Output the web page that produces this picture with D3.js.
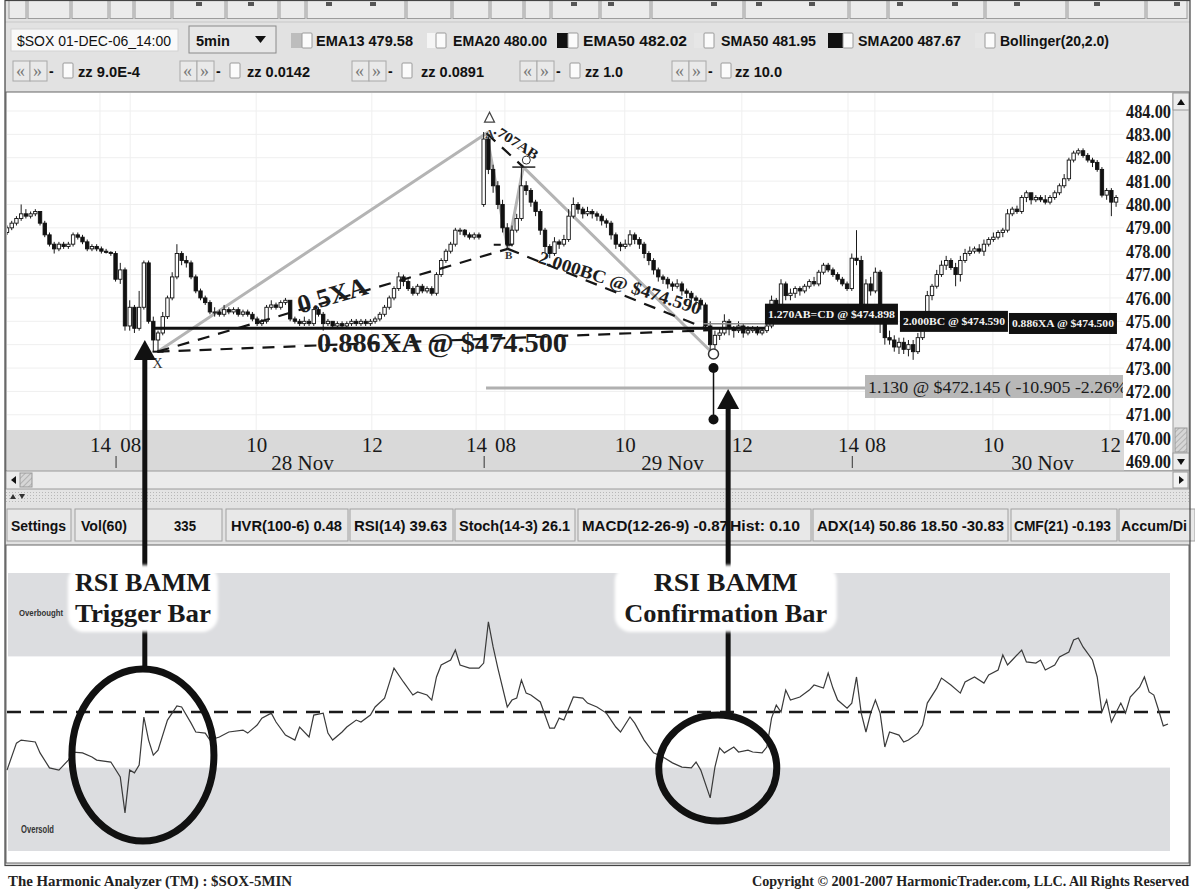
<!DOCTYPE html>
<html><head><meta charset="utf-8"><title>SOX 5min RSI BAMM</title>
<script src="https://cdn.jsdelivr.net/npm/d3@7/dist/d3.min.js"></script>
<style>html,body{margin:0;padding:0;background:#fff;overflow:hidden}svg{display:block}</style>
</head><body><svg id="chart" width="1195" height="894"></svg>
<script>
// ================= DATA =================
const openP=[
478.8,479.0,479.2,479.4,479.6,479.5,479.6,479.7,479.2,478.7,
478.3,478.1,478.3,478.2,478.3,478.7,478.6,478.4,478.1,478.2,
478.1,478.0,477.95,477.9,476.8,477.2,474.8,475.6,474.7,475.6,
477.5,475.0,474.2,474.5,475.2,476.0,476.9,477.9,477.6,477.5,
476.9,476.3,476.0,475.8,475.4,475.4,475.3,475.5,475.4,475.5,
475.3,475.4,475.3,475.1,474.9,475.0,475.6,475.7,475.6,475.8,
475.9,475.1,475.0,474.9,475.0,474.9,475.5,475.3,474.9,475.0,
474.8,474.9,474.8,474.9,475.0,474.9,475.0,474.9,475.0,475.1,
475.3,475.6,476.0,476.4,476.9,476.7,476.4,476.2,476.5,476.3,
476.4,476.2,477.0,477.6,478.0,478.3,478.9,478.9,478.7,478.6,
478.7,480.0,482.8,481.5,480.8,480.0,479.0,478.3,478.9,479.4,
480.8,480.6,480.1,479.7,478.9,478.2,477.9,478.4,478.3,478.5,
479.5,480.0,479.8,479.6,479.7,479.6,479.5,479.3,479.2,478.7,
478.3,478.2,478.3,478.7,478.5,478.3,477.9,477.6,477.2,476.9,
476.8,476.6,476.5,476.6,476.3,476.2,476.0,475.9,475.7,474.8,
474.0,474.4,474.5,475.0,474.7,474.6,474.8,474.5,474.6,474.7,
474.5,474.6,474.8,475.9,475.5,476.6,476.1,476.2,476.4,476.3,
476.5,476.7,476.6,477.1,477.4,477.2,477.0,476.8,476.6,476.4,
477.7,477.6,475.7,476.6,476.3,477.1,475.0,474.3,474.2,473.9,
474.1,473.8,474.0,473.7,474.3,475.1,476.1,476.5,477.0,477.4,
477.6,477.3,477.0,477.6,477.9,478.0,478.1,478.0,478.3,478.5,
478.6,478.8,478.9,479.6,479.8,479.7,480.3,480.5,480.2,480.3,
480.2,480.1,480.3,480.5,480.8,481.1,481.9,482.2,482.3,482.1,
481.9,481.8,481.5,480.4,480.6,480.1];
const highP=[
479.1,479.3,479.5,480.0,479.8,479.7,479.8,479.7,479.3,478.8,
478.4,478.4,478.4,478.4,478.8,478.8,478.7,478.5,478.3,478.3,
478.2,478.1,478.0,478.0,477.5,477.3,475.9,475.7,476.3,477.6,
477.6,475.2,474.6,475.4,476.1,477.1,478.3,478.0,477.8,477.6,
477.0,476.4,476.1,475.9,475.6,475.5,475.7,475.6,475.6,475.6,
475.5,475.5,475.4,475.2,475.1,475.7,475.9,475.8,475.9,476.0,
475.9,475.2,475.1,475.2,475.1,475.6,475.6,475.4,475.1,475.0,
475.0,475.0,475.0,475.1,475.1,475.1,475.1,475.1,475.2,475.4,
475.7,476.1,476.5,477.1,477.0,476.8,476.5,476.6,476.6,476.5,
476.5,477.1,477.7,478.1,478.4,479.0,479.0,478.95,478.8,478.8,
478.8,483.1,482.9,481.7,481.0,480.2,479.2,479.1,479.6,481.6,
481.0,480.7,480.2,479.8,479.0,478.3,478.6,478.5,478.7,479.8,
480.3,480.1,479.9,479.9,479.8,479.7,479.6,479.4,479.3,478.8,
478.4,478.5,478.9,478.8,478.6,478.4,478.0,477.7,477.3,477.0,
476.9,476.7,476.8,476.7,476.4,476.3,476.1,476.0,475.8,475.0,
474.6,474.7,475.3,475.1,474.8,475.0,474.9,474.8,474.8,474.8,
474.7,474.9,476.1,476.0,476.8,476.7,476.4,476.5,476.5,476.6,
476.8,476.9,477.2,477.5,477.5,477.3,477.1,476.9,476.7,477.9,
478.9,477.8,476.8,476.9,477.3,477.2,475.1,474.6,474.4,474.3,
474.3,474.2,474.2,474.5,475.3,476.3,476.6,477.2,477.6,477.8,
477.7,477.5,477.8,478.1,478.2,478.2,478.3,478.5,478.6,478.8,
478.9,479.0,479.8,479.9,479.95,480.4,480.6,480.5,480.4,480.4,
480.4,480.4,480.6,480.9,481.3,482.0,482.3,482.4,482.4,482.2,
482.0,481.9,481.6,480.7,480.7,480.4];
const lowP=[
478.7,478.9,479.1,479.3,479.4,479.4,479.5,479.1,478.6,478.2,
477.9,478.0,478.1,478.1,478.2,478.5,478.3,478.0,478.0,478.0,
477.9,477.9,477.8,476.7,476.6,474.6,474.6,474.5,474.6,475.5,
474.9,473.7,473.65,474.4,475.1,475.9,476.8,477.4,477.3,476.8,
476.2,475.9,475.7,475.3,475.2,475.2,475.2,475.3,475.3,475.2,
475.2,475.2,475.0,474.8,474.8,474.9,475.5,475.5,475.5,475.7,
475.0,474.9,474.8,474.8,474.8,474.8,475.2,474.6,474.8,474.7,
474.7,474.7,474.7,474.8,474.8,474.8,474.8,474.8,474.9,475.0,
475.2,475.5,475.9,476.3,476.5,476.3,476.1,476.1,476.2,476.2,
476.1,476.1,476.9,477.5,477.9,478.2,478.7,478.6,478.5,478.5,
478.5,479.9,481.3,480.5,479.8,478.8,478.1,478.2,478.8,479.3,
480.4,479.9,479.5,478.7,477.9,477.7,477.8,478.1,478.2,478.4,
479.4,479.6,479.4,479.5,479.4,479.3,479.1,479.0,478.5,478.1,
478.0,478.1,478.2,478.3,478.1,477.7,477.4,477.0,476.7,476.6,
476.4,476.3,476.4,476.1,476.0,475.8,475.7,475.5,474.6,473.6,
473.8,474.2,474.4,474.4,474.3,474.5,474.3,474.4,474.5,474.4,
474.4,474.5,474.7,475.3,475.4,475.9,475.9,476.0,476.1,476.2,
476.4,476.5,476.5,477.0,477.1,476.9,476.7,476.5,476.3,476.3,
477.4,475.5,475.6,476.1,476.2,474.5,474.0,474.0,473.7,473.6,
473.6,473.5,473.35,473.6,474.2,475.0,475.9,476.4,476.9,477.2,
477.2,476.5,476.7,477.5,477.8,477.9,477.9,477.8,478.2,478.4,
478.5,478.6,478.8,479.5,479.6,479.6,480.1,480.0,480.1,480.1,
480.0,480.0,480.2,480.4,480.7,481.0,481.8,482.1,482.0,481.8,
481.6,481.4,480.3,480.2,479.5,479.9];
const closeP=[
479.0,479.2,479.4,479.6,479.5,479.6,479.7,479.2,478.7,478.3,
478.1,478.3,478.2,478.3,478.7,478.6,478.4,478.1,478.2,478.1,
478.0,477.95,477.9,476.8,477.2,474.8,475.6,474.7,475.6,477.5,
475.0,474.2,474.5,475.2,476.0,476.9,477.9,477.6,477.5,476.9,
476.3,476.0,475.8,475.4,475.4,475.3,475.5,475.4,475.5,475.3,
475.4,475.3,475.1,474.9,475.0,475.6,475.7,475.6,475.8,475.9,
475.1,475.0,474.9,475.0,474.9,475.5,475.3,474.9,475.0,474.8,
474.9,474.8,474.9,475.0,474.9,475.0,474.9,475.0,475.1,475.3,
475.6,476.0,476.4,476.9,476.7,476.4,476.2,476.5,476.3,476.4,
476.2,477.0,477.6,478.0,478.3,478.9,478.9,478.7,478.6,478.7,
478.6,482.8,481.5,480.8,480.0,479.0,478.3,478.9,479.4,480.8,
480.6,480.1,479.7,478.9,478.2,477.9,478.4,478.3,478.5,479.5,
480.0,479.8,479.6,479.7,479.6,479.5,479.3,479.2,478.7,478.3,
478.2,478.3,478.7,478.5,478.3,477.9,477.6,477.2,476.9,476.8,
476.6,476.5,476.6,476.3,476.2,476.0,475.9,475.7,474.8,474.0,
474.4,474.5,475.0,474.7,474.6,474.8,474.5,474.6,474.7,474.5,
474.6,474.8,475.9,475.5,476.6,476.1,476.2,476.4,476.3,476.5,
476.7,476.6,477.1,477.4,477.2,477.0,476.8,476.6,476.4,477.7,
477.6,475.7,476.6,476.3,477.1,475.0,474.3,474.2,473.9,474.1,
473.8,474.0,473.7,474.3,475.1,476.1,476.5,477.0,477.4,477.6,
477.3,477.0,477.6,477.9,478.0,478.1,478.0,478.3,478.5,478.6,
478.8,478.9,479.6,479.8,479.7,480.3,480.5,480.2,480.3,480.2,
480.1,480.3,480.5,480.8,481.1,481.9,482.2,482.3,482.1,481.9,
481.8,481.5,480.4,480.6,480.1,480.3];

const rsiBar=[
0,2,3,6,7,9,11,12,13,14,
16,18,19,22,24,25,26,27,28,29,
30,31,32,34,36,37,39,40,42,43,
45,47,50,51,53,54,56,57,59,61,
62,64,65,67,68,69,71,72,74,75,
77,78,80,81,82,84,86,87,89,90,
91,92,94,95,96,98,100,101,102,103,
104,106,107,108,109,110,111,113,115,116,
117,118,120,122,123,125,127,129,130,132,
133,135,137,139,141,143,145,146,147,149,
150,151,152,154,155,157,158,160,161,162,
163,164,165,166,168,170,171,173,174,175,
176,178,179,180,181,182,183,184,185,186,
187,189,190,191,193,194,195,197,198,200,
202,203,205,207,208,210,211,212,213,215,
216,218,219,220,222,223,225,226,227,228,
230,231,232,233,234,236,237,238,240,241,
242,243,244,245,246];
const rsiVal=[
29.1,38.8,39.9,39.2,35.3,29.9,29.1,30.9,32.7,35.6,
35.3,33.8,32.7,32.0,26.6,13.7,29.1,28.1,30.9,48.2,
39.9,34.5,36.3,47.1,52.2,51.8,46.0,42.8,42.4,39.9,
41.0,42.8,43.5,42.4,45.3,47.8,49.6,46.4,41.7,39.9,
44.6,41.0,48.9,49.6,42.4,39.9,42.8,44.6,47.1,46.4,
48.9,51.8,55.0,60.4,65.8,60.8,56.1,57.2,56.1,54.3,
62.6,66.9,68.7,72.3,66.9,65.8,65.8,67.6,82.4,73.4,
65.8,51.8,54.3,55.0,61.5,56.8,56.1,53.6,44.2,44.2,
47.8,47.1,55.4,55.0,53.2,51.8,49.6,44.6,42.8,48.2,
46.0,39.9,35.3,33.8,31.7,30.2,29.9,32.0,29.1,19.1,
30.2,37.1,35.3,37.4,35.6,36.3,35.6,35.3,37.4,47.8,
52.5,50.0,57.9,54.3,55.4,57.9,59.7,58.6,64.0,58.6,
54.3,51.4,53.2,62.6,49.6,42.8,49.6,54.3,49.6,37.4,
42.8,41.7,39.2,39.9,42.4,45.3,53.2,58.6,62.2,59.7,
56.8,60.8,62.6,60.4,63.3,65.1,70.5,66.9,68.7,72.3,
68.0,67.6,68.7,65.1,66.9,69.8,71.6,75.9,76.6,73.4,
68.7,62.6,50.0,54.3,46.4,53.2,49.6,55.4,59.0,62.6,
57.2,56.1,50.7,45.0,45.7];

const priceTicks=[469,470,471,472,473,474,475,476,477,478,479,480,481,482,483,484];
const timeTickBars=[19.7,26.1,52.8,77.3,99.4,105.5,130.9,155.7,178.2,183.9,208.9,233.7];
const timeTickLabels=["14","08","10","12","14","08","10","12","14","08","10","12"];
const dateBars=[62.5,140.9,219.3];
const dateLabels=["28 Nov","29 Nov","30 Nov"];
const dayStartBars=[23,101,179];

const patternNames=["X","A","B","C","D"];
const patternBars=[31.9,101.6,106.1,109.4,149.7];
const patternPrices=[473.7,483.05,478.1,481.6,473.6];
const przBar=149, przPrice=474.62;
const xaLevel=474.7, cdLevel=474.9;
const levelLabels=["1.270AB=CD @ $474.898","2.000BC @ $474.590","0.886XA @ $474.500"];
const levelValues=[474.898,474.59,474.5];
const levelBars=[160.6,189.2,212.3];
const projLabel="1.130 @ $472.145 ( -10.905   -2.26%";
const projLevel=472.145, projStartBar=101.5, projBoxBar=181.8;
const dMarkPrices=[473.0,470.8];

const legendNames=["EMA13 479.58","EMA20 480.00","EMA50 482.02","SMA50 481.95","SMA200 487.67","Bollinger(20,2.0)"];
const zzNames=["zz 9.0E-4","zz 0.0142","zz 0.0891","zz 1.0","zz 10.0"];
const indicatorNames=["Settings","Vol(60)","335","HVR(100-6)  0.48","RSI(14)  39.63","Stoch(14-3) 26.1","MACD(12-26-9)  -0.87","Hist:  0.10","ADX(14) 50.86 18.50 -30.83","CMF(21) -0.193","Accum/Di"];

// ================= SETUP =================
const SERIF='"Liberation Serif","DejaVu Serif",serif';
const NARROW='"Liberation Sans Narrow","Liberation Sans",Arial,sans-serif';
const svg=d3.select("#chart");
const defs=svg.append("defs");
const hatch=defs.append("pattern").attr("id","hatch").attr("width",4).attr("height",4)
  .attr("patternUnits","userSpaceOnUse").attr("patternTransform","rotate(45)");
hatch.append("rect").attr("width",4).attr("height",4).attr("fill","#d6d6d6");
hatch.append("line").attr("x1",0).attr("y1",0).attr("x2",0).attr("y2",4).attr("stroke","#a5a5a5").attr("stroke-width",1.5);
const dotsPat=defs.append("pattern").attr("id","dots").attr("width",3).attr("height",3).attr("patternUnits","userSpaceOnUse");
dotsPat.append("rect").attr("width",3).attr("height",3).attr("fill","#e4e4e4");
dotsPat.append("rect").attr("width",1).attr("height",1).attr("fill","#b8b8b8");
defs.append("clipPath").attr("id","priceClip").append("rect").attr("x",7).attr("y",93).attr("width",1117).attr("height",378);
defs.append("clipPath").attr("id","projClip").append("rect").attr("x",7).attr("y",93).attr("width",1116).attr("height",336);
const soft=defs.append("filter").attr("id","soft").attr("x","-10%").attr("y","-10%").attr("width","120%").attr("height","120%");
soft.append("feGaussianBlur").attr("stdDeviation",1.8);

const x=d3.scaleLinear().domain([0,246]).range([7,1168]);
const y=d3.scaleLinear().domain([469,484]).range([461.5,111]);
const yR=d3.scaleLinear().domain([0,100]).range([851,573]);

function txt(g,s,tx,ty,size,opts={}){
  const t=g.append("text").attr("x",tx).attr("y",ty).text(s)
    .attr("font-family",opts.family||NARROW).attr("font-size",size)
    .attr("font-weight",opts.weight||"normal").attr("fill",opts.fill||"#111");
  if(opts.len){t.attr("textLength",opts.len).attr("lengthAdjust","spacingAndGlyphs");}
  if(opts.anchor){t.attr("text-anchor",opts.anchor);}
  return t;
}

// backgrounds
svg.append("rect").attr("width",1195).attr("height",894).attr("fill","#fff");
svg.append("rect").attr("x",5).attr("y",0).attr("width",1185).attr("height",866).attr("fill","#e2e2e2");

// ---- top button strip ----
const topEdges=[8,27,71,109,134,172,226,279,306,406,452,490,524,551,600,651,744,849,888,985,1067,1146,1188];
for(let i=0;i<topEdges.length-1;i++){
  svg.append("rect").attr("x",topEdges[i]+1).attr("y",0.5).attr("width",topEdges[i+1]-topEdges[i]-2).attr("height",18)
    .attr("fill","#ebebeb").attr("stroke","#9c9c9c");
}
[199,251,329,373,574,611,714,759,812,900,955,1017,1097,1177].forEach(m=>{
  svg.append("rect").attr("x",m-3).attr("y",2).attr("width",6).attr("height",4).attr("fill","#555");
});
svg.append("line").attr("x1",5).attr("x2",1190).attr("y1",22).attr("y2",22).attr("stroke","#c8c8c8");

// ---- row 2 ----
const tb=svg.append("g");
tb.append("rect").attr("x",11).attr("y",29).attr("width",167).attr("height",22).attr("fill","#f9f9f9").attr("stroke","#d2d2d2");
txt(tb,"$SOX 01-DEC-06_14:00",17,45.5,14,{len:154});
tb.append("rect").attr("x",189).attr("y",26).attr("width",87).attr("height",27).attr("fill","#e7e7e7").attr("stroke","#8a8a8a");
txt(tb,"5min",196,45.5,15,{weight:"bold",len:34});
tb.append("path").attr("d","M255,36 L266,36 L260.5,43 Z").attr("fill","#111");
const swX=[291,427,557,694,828,975], boxX=[302,436,568,704,843,985], ltX=[316,453,583,721,858,1000], ltW=[97,94,104,95,103,109];
const swCol=["#bdbdbd","#f5f5f5","#111111","#e6e6e6","#111111","#e6e6e6"];
legendNames.forEach((n,i)=>{
  tb.append("rect").attr("x",swX[i]).attr("y",33).attr("width",boxX[i]-swX[i]).attr("height",15).attr("fill",swCol[i]);
  tb.append("rect").attr("x",boxX[i]).attr("y",33).attr("width",10).attr("height",15).attr("rx",1).attr("fill","#fbfbfb").attr("stroke","#9a9a9a");
  txt(tb,n,ltX[i],46,14,{weight:"bold",len:ltW[i]});
});
// ---- row 3 ----
const gX=[13,180,352,520,672], ckX=[63,230,402,570,721], zX=[78,247,421,585,735], zW=[62,63,63,38,47];
zzNames.forEach((n,i)=>{
  tb.append("rect").attr("x",gX[i]).attr("y",61).attr("width",17).attr("height",20).attr("fill","#e9e9e9").attr("stroke","#a8a8a8");
  tb.append("rect").attr("x",gX[i]+17).attr("y",61).attr("width",17).attr("height",20).attr("fill","#e9e9e9").attr("stroke","#a8a8a8");
  txt(tb,"\u00AB",gX[i]+3,77,18,{fill:"#7a7a7a",family:SERIF});
  txt(tb,"\u00BB",gX[i]+20,77,18,{fill:"#7a7a7a",family:SERIF});
  txt(tb,"-",gX[i]+36,76,14,{weight:"bold"});
  tb.append("rect").attr("x",ckX[i]).attr("y",63).attr("width",10).attr("height",15).attr("rx",1).attr("fill","#fbfbfb").attr("stroke","#9a9a9a");
  txt(tb,n,zX[i],77,14,{weight:"bold",len:zW[i]});
});

// ---- price panel frame ----
svg.append("rect").attr("x",6).attr("y",92).attr("width",1183).attr("height",379).attr("fill","#fff").attr("stroke","#666");
const gP=svg.append("g").attr("clip-path","url(#priceClip)");
gP.selectAll("line.hgrid").data(priceTicks).join("line").attr("class","hgrid")
  .attr("x1",7).attr("x2",1124).attr("y1",d=>y(d)).attr("y2",d=>y(d)).attr("stroke","#efefef");
gP.selectAll("line.vgrid").data(timeTickBars).join("line").attr("class","vgrid")
  .attr("x1",d=>x(d)).attr("x2",d=>x(d)).attr("y1",93).attr("y2",430).attr("stroke","#efefef");
gP.append("rect").attr("x",7).attr("y",430).attr("width",1117).attr("height",42).attr("fill","#d9d9d9");

// ---- pattern (grey legs) ----
const pts=patternNames.map((n,i)=>({n,b:patternBars[i],p:patternPrices[i]}));
const P=Object.fromEntries(pts.map(d=>[d.n,d]));
const przPt={b:przBar,p:przPrice};
gP.append("path").attr("d",d3.line().x(d=>x(d.b)).y(d=>y(d.p))(pts))
  .attr("fill","none").attr("stroke","#b4b4b4").attr("stroke-width",3);
gP.append("line").attr("x1",x(projStartBar)).attr("x2",x(projBoxBar)).attr("y1",y(projLevel)).attr("y2",y(projLevel))
  .attr("stroke","#b0b0b0").attr("stroke-width",3);

// ---- candles ----
const bars=d3.range(closeP.length).map(i=>({i,o:openP[i],h:highP[i],l:lowP[i],c:closeP[i]}));
gP.selectAll("line.wick").data(bars).join("line").attr("class","wick")
  .attr("x1",d=>x(d.i)).attr("x2",d=>x(d.i)).attr("y1",d=>y(Math.max(d.h,d.o,d.c))).attr("y2",d=>y(Math.min(d.l,d.o,d.c)))
  .attr("stroke","#1a1a1a").attr("stroke-width",1);
gP.selectAll("rect.body").data(bars).join("rect").attr("class","body")
  .attr("x",d=>x(d.i)-1.7).attr("width",3.4)
  .attr("y",d=>y(Math.max(d.o,d.c))).attr("height",d=>Math.max(1,Math.abs(y(d.o)-y(d.c))))
  .attr("fill",d=>d.c>=d.o?"#fff":"#111").attr("stroke","#111").attr("stroke-width",0.9);

// ---- dashed pattern lines ----
const dashPairs=[[P.X,P.B],[P.A,P.C],[P.B,przPt],[P.X,przPt]];
dashPairs.forEach(([a,b])=>{
  gP.append("line").attr("x1",x(a.b)).attr("y1",y(a.p)).attr("x2",x(b.b)).attr("y2",y(b.p))
    .attr("stroke","#151515").attr("stroke-width",2.2).attr("stroke-dasharray","12,9");
});
gP.append("line").attr("x1",x(P.B.b)-14).attr("x2",x(P.B.b)+10).attr("y1",y(P.B.p)-4).attr("y2",y(P.B.p)-4)
  .attr("stroke","#151515").attr("stroke-width",2).attr("stroke-dasharray","7,5");

// ---- level lines and boxes ----
gP.append("line").attr("x1",x(31.3)).attr("x2",x(levelBars[0])).attr("y1",y(xaLevel)).attr("y2",y(xaLevel))
  .attr("stroke","#111").attr("stroke-width",3);
gP.append("line").attr("x1",x(147.5)).attr("x2",x(levelBars[0])).attr("y1",y(cdLevel)).attr("y2",y(cdLevel))
  .attr("stroke","#8a8a8a").attr("stroke-width",1.5);
const levelW=[133,108,108];
levelLabels.forEach((s,k)=>{
  const bx=x(levelBars[k]), yb=y(levelValues[k]);
  gP.append("rect").attr("x",bx).attr("y",yb-20).attr("width",levelW[k]).attr("height",21).attr("fill","#111");
  txt(gP,s,bx+3,yb-5.5,11,{family:SERIF,weight:"bold",fill:"#f2f2f2",len:levelW[k]-6});
});
const gProj=svg.append("g").attr("clip-path","url(#projClip)");
gProj.append("rect").attr("x",x(projBoxBar)).attr("y",y(projLevel)-13).attr("width",1124-x(projBoxBar)).attr("height",23).attr("fill","#b8b8b8");
txt(gProj,projLabel,x(projBoxBar)+3,y(projLevel)+5,17,{family:SERIF,fill:"#1a1a1a",len:259});

// ---- annotation texts ----
txt(gP,"0.886XA @ $474.500",317,352,27,{family:SERIF,weight:"bold",fill:"#1e1e1e",len:250});
const xb1={x:x(P.X.b),y:y(P.X.p)}, xb2={x:x(P.B.b),y:y(P.B.p)};
const angXB=Math.atan2(xb2.y-xb1.y,xb2.x-xb1.x)*180/Math.PI;
txt(gP,"0.5XA",332,304,26,{family:SERIF,weight:"bold",fill:"#1e1e1e",anchor:"middle",len:72})
  .attr("transform",`rotate(${angXB},332,294)`);
txt(gP,"2.000BC @ $474.590",620,289,18,{family:SERIF,weight:"bold",fill:"#1e1e1e",anchor:"middle",len:170})
  .attr("transform","rotate(18,620,283)");
txt(gP,".707AB",516,147,14,{family:SERIF,weight:"bold",fill:"#1e1e1e",anchor:"middle",len:50})
  .attr("transform","rotate(33,516,143)");

// point markers
txt(gP,"X",x(P.X.b),368,14,{family:SERIF,fill:"#333",anchor:"middle"});
gP.append("line").attr("x1",x(P.X.b)-5).attr("x2",x(P.X.b)+6).attr("y1",y(P.X.p)).attr("y2",y(P.X.p)).attr("stroke","#111").attr("stroke-width",2);
const ax0=x(P.A.b)+3, ay0=y(P.A.p);
gP.append("path").attr("d",`M${ax0},${ay0-21} L${ax0-5},${ay0-11} L${ax0+5},${ay0-11} Z`).attr("fill","none").attr("stroke","#444").attr("stroke-width",1.2);
txt(gP,"A",ax0,ay0+5,12,{family:SERIF,weight:"bold",fill:"#333",anchor:"middle"});
txt(gP,"B",x(P.B.b)+1,y(P.B.p)+10,11,{family:SERIF,weight:"bold",fill:"#333",anchor:"middle"});
gP.append("line").attr("x1",x(P.C.b)-11).attr("x2",x(P.C.b)+12).attr("y1",y(P.C.p)).attr("y2",y(P.C.p)).attr("stroke","#222").attr("stroke-width",1.5);
gP.append("circle").attr("cx",x(P.C.b)+3).attr("cy",y(P.C.p)-7).attr("r",4).attr("fill","#fff").attr("stroke","#333");
const dx=x(P.D.b);
gP.append("line").attr("x1",dx).attr("x2",dx).attr("y1",y(dMarkPrices[0])).attr("y2",y(dMarkPrices[1])).attr("stroke","#111").attr("stroke-width",1.5);
gP.append("circle").attr("cx",dx).attr("cy",y(P.D.p)).attr("r",5).attr("fill","#fff").attr("stroke","#333").attr("stroke-width",1.5);
dMarkPrices.forEach(p=>gP.append("circle").attr("cx",dx).attr("cy",y(p)).attr("r",5).attr("fill","#111"));

// ---- axes ----
const gAxR=svg.append("g").attr("transform","translate(1125,0)")
  .call(d3.axisRight(y).tickValues(priceTicks).tickSize(0).tickPadding(1).tickFormat(d3.format(".2f")));
gAxR.select(".domain").remove();
gAxR.selectAll("text").attr("font-family",SERIF).attr("font-size",19).attr("font-weight","bold").attr("fill","#1a1a1a")
  .attr("textLength",45).attr("lengthAdjust","spacingAndGlyphs");

const gT=svg.append("g").attr("clip-path","url(#priceClip)");
const axT=gT.append("g").attr("transform","translate(0,434)")
  .call(d3.axisBottom(x).tickValues(timeTickBars).tickFormat((d,i)=>timeTickLabels[i]).tickSize(0).tickPadding(3));
axT.select(".domain").remove();
axT.selectAll("text").attr("font-family",SERIF).attr("font-size",21).attr("fill","#1a1a1a");
const axD=gT.append("g").attr("transform","translate(0,452)")
  .call(d3.axisBottom(x).tickValues(dateBars).tickFormat((d,i)=>dateLabels[i]).tickSize(0).tickPadding(3));
axD.select(".domain").remove();
axD.selectAll("text").attr("font-family",SERIF).attr("font-size",21).attr("fill","#1a1a1a");
const axK=gT.append("g").attr("transform","translate(0,456)")
  .call(d3.axisBottom(x).tickValues(dayStartBars).tickSize(12).tickFormat(""));
axK.select(".domain").remove();
axK.selectAll("line").attr("stroke","#333");

// vertical scrollbar
svg.append("rect").attr("x",1173).attr("y",93).attr("width",16).attr("height",377).attr("fill","#e6e6e6").attr("stroke","#9a9a9a");
svg.append("rect").attr("x",1173).attr("y",93).attr("width",16).attr("height",17).attr("fill","#ececec").attr("stroke","#9a9a9a");
svg.append("path").attr("d","M1177,105 L1185,105 L1181,99 Z").attr("fill","#111");
svg.append("rect").attr("x",1175).attr("y",428).attr("width",12).attr("height",24).attr("fill","url(#hatch)").attr("stroke","#999");
svg.append("rect").attr("x",1173).attr("y",453).attr("width",16).attr("height",17).attr("fill","#ececec").attr("stroke","#9a9a9a");
svg.append("path").attr("d","M1177,459 L1185,459 L1181,465 Z").attr("fill","#111");

// horizontal scrollbar
svg.append("rect").attr("x",6).attr("y",471).attr("width",1183).attr("height",18).attr("fill","#ebebeb").attr("stroke","#9a9a9a");
svg.append("path").attr("d","M16,476 L16,484 L11,480 Z").attr("fill","#111");
svg.append("rect").attr("x",20).attr("y",473).attr("width",12).attr("height",14).attr("fill","url(#hatch)").attr("stroke","#999");
svg.append("rect").attr("x",1173).attr("y",472).attr("width",15).attr("height",16).attr("fill","#f2f2f2").attr("stroke","#9a9a9a");
svg.append("path").attr("d","M1179,476 L1179,484 L1184,480 Z").attr("fill","#111");

// splitter
svg.append("rect").attr("x",6).attr("y",490).attr("width",1183).attr("height",13).attr("fill","url(#dots)");
svg.append("path").attr("d","M10,499 L16,499 L13,494 Z").attr("fill","#333");
svg.append("path").attr("d","M19,494 L25,494 L22,499 Z").attr("fill","#333");

// indicator buttons
const btnEdges=[[7,71],[75,222],[226,348],[350,453],[455,575],[578,811],[813,1008],[1011,1117],[1119,1195]];
btnEdges.forEach(([a,b])=>{
  svg.append("rect").attr("x",a).attr("y",509).attr("width",b-a).attr("height",32).attr("fill","#e8e8e8").attr("stroke","#a0a0a0");
});
const indX=[11,81,174,231,354,459,582,730,817,1014,1121], indW=[55,46,22,111,93,111,146,70,187,97,66];
indicatorNames.forEach((n,i)=>txt(svg,n,indX[i],531,14,{weight:"bold",len:indW[i]}));

// ---- RSI panel ----
svg.append("rect").attr("x",6).attr("y",545).attr("width",1183).attr("height",318).attr("fill","#fff").attr("stroke","#666");
const gR=svg.append("g");
gR.append("rect").attr("x",8).attr("y",yR(100)).attr("width",1162).attr("height",yR(70)-yR(100)).attr("fill","#dcdde0");
gR.append("rect").attr("x",8).attr("y",yR(30)).attr("width",1162).attr("height",yR(0)-yR(30)).attr("fill","#dcdde0");
txt(gR,"Overbought",19,616,8.5,{weight:"bold",fill:"#333",len:44});
txt(gR,"Oversold",21,833,10,{weight:"bold",fill:"#333",len:33});
gR.append("line").attr("x1",7).attr("x2",1170).attr("y1",yR(50)).attr("y2",yR(50))
  .attr("stroke","#1a1a1a").attr("stroke-width",2.5).attr("stroke-dasharray","14,9");
const rsiPts=rsiBar.map((b,i)=>({b,v:rsiVal[i]}));
gR.append("path").attr("d",d3.line().x(d=>x(d.b)).y(d=>yR(d.v))(rsiPts))
  .attr("fill","none").attr("stroke","#3a3a3a").attr("stroke-width",1.2);

// footer
svg.append("rect").attr("x",0).attr("y",866).attr("width",1195).attr("height",28).attr("fill","#fff");
txt(svg,"The Harmonic Analyzer (TM)  :  $SOX-5MIN",8,886,14,{family:SERIF,weight:"bold",fill:"#222",len:284});
txt(svg,"Copyright \u00A9 2001-2007 HarmonicTrader.com, LLC. All Rights Reserved",752,886,14,{family:SERIF,weight:"bold",fill:"#222",len:437});

// ---- arrows, ellipses, call-outs ----
function arrow(bar,tipPrice,endY){
  const ax=x(bar), ty=y(tipPrice);
  svg.append("line").attr("x1",ax).attr("x2",ax).attr("y1",ty+15).attr("y2",endY).attr("stroke","#111").attr("stroke-width",5);
  svg.append("path").attr("d",`M${ax},${ty} L${ax-11},${ty+20} L${ax+11},${ty+20} Z`).attr("fill","#111");
}
arrow(29.2,474.2,670);
arrow(152.8,472.1,717);

svg.append("ellipse").attr("cx",x(28.8)).attr("cy",yR(34.5)).attr("rx",71).attr("ry",86)
  .attr("fill","none").attr("stroke","#111").attr("stroke-width",7);
svg.append("ellipse").attr("cx",x(150.6)).attr("cy",yR(29.9)).attr("rx",59).attr("ry",53)
  .attr("fill","none").attr("stroke","#111").attr("stroke-width",7);

function callout(cx,w,l1,l2,w1,w2){
  svg.append("rect").attr("x",cx-w/2).attr("y",565).attr("width",w).attr("height",67).attr("rx",16)
    .attr("fill","#fff").attr("filter","url(#soft)");
  txt(svg,l1,cx,591,26,{family:SERIF,weight:"bold",fill:"#1a1a1a",anchor:"middle",len:w1});
  txt(svg,l2,cx,622,26,{family:SERIF,weight:"bold",fill:"#1a1a1a",anchor:"middle",len:w2});
}
callout(x(28.8),150,"RSI BAMM","Trigger Bar",136,136);
callout(x(152.3),222,"RSI BAMM","Confirmation Bar",144,203);

svg.append("rect").attr("x",5).attr("y",0.5).attr("width",1185).attr("height",865).attr("fill","none").attr("stroke","#444").attr("stroke-width",1.2);
</script></body></html>
